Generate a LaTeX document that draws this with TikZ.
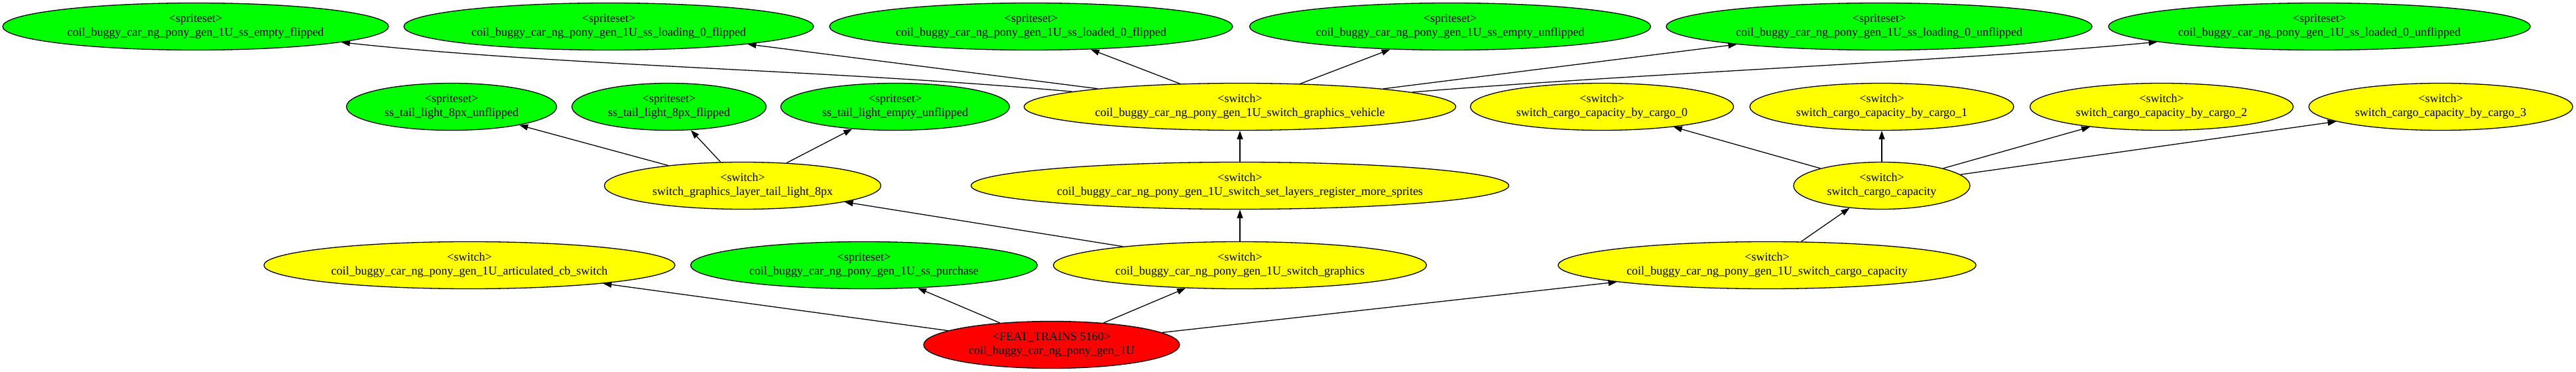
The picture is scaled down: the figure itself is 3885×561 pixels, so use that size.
\documentclass[tikz,border=0pt]{standalone}
\usepackage{fontspec}
\setmainfont{Liberation Serif}
\usetikzlibrary{arrows.meta,shapes.geometric}
\definecolor{gvgreen}{RGB}{0,255,0}
\definecolor{gvyellow}{RGB}{255,255,0}
\definecolor{gvred}{RGB}{255,0,0}
\begin{document}
\begin{tikzpicture}[x=1pt,y=-1pt,
  nd/.style={ellipse, draw=black, line width=1.3pt, inner sep=0pt, minimum height=71pt,
    align=center, font=\fontsize{18}{21}\selectfont},
  sprite/.style={nd, fill=gvgreen},
  swnode/.style={nd, fill=gvyellow},
  featnode/.style={nd, fill=gvred},
  conn/.style={-{Triangle[length=13pt,width=9pt]}, line width=1.3pt}]
\useasboundingbox (0,0) rectangle (3885,561);
% top row
\node[sprite, minimum width=582pt] (esf) at (295,40) {<spriteset>\\coil\_buggy\_car\_ng\_pony\_gen\_1U\_ss\_empty\_flipped};
\node[sprite, minimum width=618pt] (l0f) at (918,40) {<spriteset>\\coil\_buggy\_car\_ng\_pony\_gen\_1U\_ss\_loading\_0\_flipped};
\node[sprite, minimum width=608pt] (ld0f) at (1555,40) {<spriteset>\\coil\_buggy\_car\_ng\_pony\_gen\_1U\_ss\_loaded\_0\_flipped};
\node[sprite, minimum width=605pt] (eu) at (2187,40) {<spriteset>\\coil\_buggy\_car\_ng\_pony\_gen\_1U\_ss\_empty\_unflipped};
\node[sprite, minimum width=642pt] (l0u) at (2834,40) {<spriteset>\\coil\_buggy\_car\_ng\_pony\_gen\_1U\_ss\_loading\_0\_unflipped};
\node[sprite, minimum width=636pt] (ld0u) at (3498,40) {<spriteset>\\coil\_buggy\_car\_ng\_pony\_gen\_1U\_ss\_loaded\_0\_unflipped};
% second row
\node[sprite, minimum width=317pt] (tlu) at (681,161) {<spriteset>\\ss\_tail\_light\_8px\_unflipped};
\node[sprite, minimum width=293pt] (tlf) at (1009,161) {<spriteset>\\ss\_tail\_light\_8px\_flipped};
\node[sprite, minimum width=345pt] (tle) at (1350,161) {<spriteset>\\ss\_tail\_light\_empty\_unflipped};
\node[swnode, minimum width=651pt] (veh) at (1870,161) {<switch>\\coil\_buggy\_car\_ng\_pony\_gen\_1U\_switch\_graphics\_vehicle};
\node[swnode, minimum width=397pt] (c0) at (2416,161) {<switch>\\switch\_cargo\_capacity\_by\_cargo\_0};
\node[swnode, minimum width=398pt] (c1) at (2838,161) {<switch>\\switch\_cargo\_capacity\_by\_cargo\_1};
\node[swnode, minimum width=397pt] (c2) at (3260,161) {<switch>\\switch\_cargo\_capacity\_by\_cargo\_2};
\node[swnode, minimum width=398pt] (c3) at (3681,161) {<switch>\\switch\_cargo\_capacity\_by\_cargo\_3};
% third row
\node[swnode, minimum width=417pt] (tls) at (1120,280) {<switch>\\switch\_graphics\_layer\_tail\_light\_8px};
\node[swnode, minimum width=811pt] (reg) at (1870,280) {<switch>\\coil\_buggy\_car\_ng\_pony\_gen\_1U\_switch\_set\_layers\_register\_more\_sprites};
\node[swnode, minimum width=266pt] (scc) at (2838,280) {<switch>\\switch\_cargo\_capacity};
% fourth row
\node[swnode, minimum width=620pt] (art) at (708,400) {<switch>\\coil\_buggy\_car\_ng\_pony\_gen\_1U\_articulated\_cb\_switch};
\node[sprite, minimum width=523pt] (pur) at (1303,400) {<spriteset>\\coil\_buggy\_car\_ng\_pony\_gen\_1U\_ss\_purchase};
\node[swnode, minimum width=563pt] (sg) at (1870,400) {<switch>\\coil\_buggy\_car\_ng\_pony\_gen\_1U\_switch\_graphics};
\node[swnode, minimum width=630pt] (gcc) at (2665,400) {<switch>\\coil\_buggy\_car\_ng\_pony\_gen\_1U\_switch\_cargo\_capacity};
% bottom
\node[featnode, minimum width=386pt] (red) at (1586,520) {<FEAT\_TRAINS 5160>\\coil\_buggy\_car\_ng\_pony\_gen\_1U};
% edges
\draw[conn] (red) -- (art);
\draw[conn] (red) -- (pur);
\draw[conn] (red) -- (sg);
\draw[conn] (red) -- (gcc);
\draw[conn] (sg) -- (reg);
\draw[conn] (sg) -- (tls);
\draw[conn] (reg) -- (veh);
\draw[conn] (tls) -- (tlu);
\draw[conn] (tls) -- (tlf);
\draw[conn] (tls) -- (tle);
\draw[conn] (veh) .. controls (1250,105) and (850,100) .. (esf);
\draw[conn] (veh) -- (l0f);
\draw[conn] (veh) -- (ld0f);
\draw[conn] (veh) -- (eu);
\draw[conn] (veh) -- (l0u);
\draw[conn] (veh) .. controls (2450,112) and (2950,92) .. (ld0u);
\draw[conn] (gcc) -- (scc);
\draw[conn] (scc) -- (c0);
\draw[conn] (scc) -- (c1);
\draw[conn] (scc) -- (c2);
\draw[conn] (scc) -- (c3);
\end{tikzpicture}
\end{document}
